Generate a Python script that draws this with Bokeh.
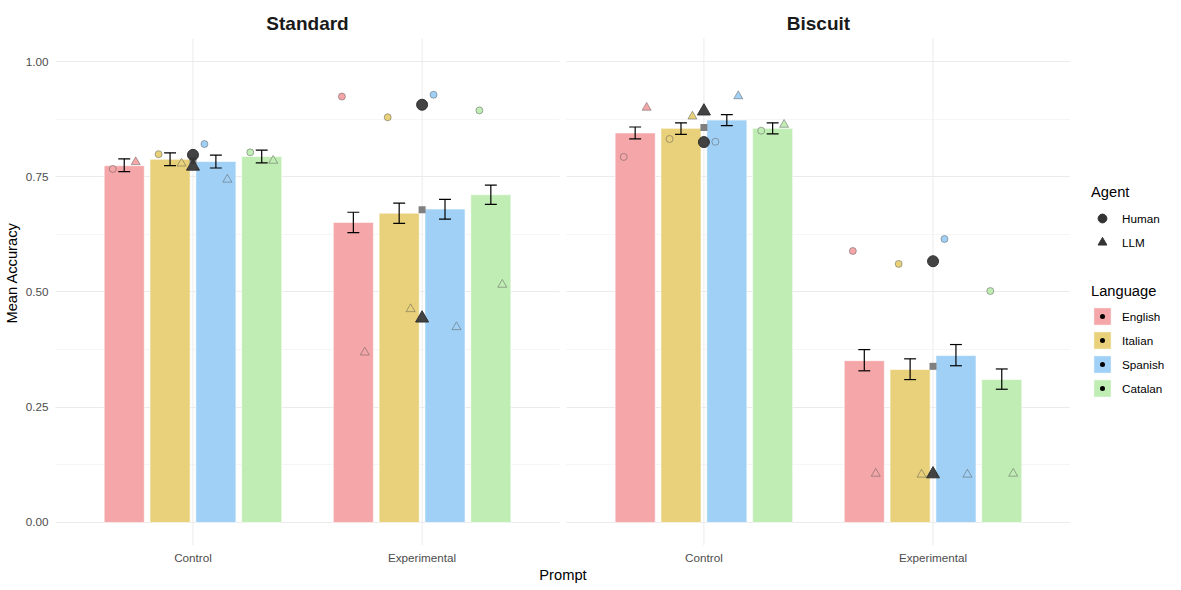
import numpy as np
from bokeh.plotting import figure
from bokeh.layouts import row
from bokeh.models import (FixedTicker, NumeralTickFormatter, Label, Legend,
                          LegendItem, ColumnDataSource)
from bokeh.embed import file_html
from bokeh.resources import INLINE

# ---------------- data ----------------
facets = ["Standard", "Biscuit"]
prompts = ["Control", "Experimental"]
languages = ["English", "Italian", "Spanish", "Catalan"]
agents = ["Human", "LLM"]
lang_colors = ["#F5A6A8", "#E8D17A", "#A0D0F5", "#C0EDB4"]

# bar means (order: English, Italian, Spanish, Catalan)
standard_control_mean = [0.774, 0.788, 0.783, 0.794]
standard_experimental_mean = [0.651, 0.671, 0.680, 0.711]
biscuit_control_mean = [0.845, 0.855, 0.873, 0.855]
biscuit_experimental_mean = [0.351, 0.332, 0.362, 0.310]

# error bar lower / upper
standard_control_lo = [0.761, 0.774, 0.769, 0.780]
standard_control_hi = [0.789, 0.802, 0.797, 0.808]
standard_experimental_lo = [0.629, 0.649, 0.658, 0.690]
standard_experimental_hi = [0.673, 0.693, 0.701, 0.732]
biscuit_control_lo = [0.832, 0.842, 0.861, 0.843]
biscuit_control_hi = [0.858, 0.867, 0.885, 0.867]
biscuit_experimental_lo = [0.329, 0.310, 0.340, 0.289]
biscuit_experimental_hi = [0.375, 0.355, 0.386, 0.333]

# accuracy by agent per language
standard_control_human = [0.767, 0.799, 0.821, 0.803]
standard_control_llm = [0.782, 0.779, 0.744, 0.785]
standard_experimental_human = [0.924, 0.879, 0.928, 0.894]
standard_experimental_llm = [0.369, 0.463, 0.424, 0.516]
biscuit_control_human = [0.793, 0.832, 0.826, 0.850]
biscuit_control_llm = [0.900, 0.881, 0.925, 0.863]
biscuit_experimental_human = [0.589, 0.561, 0.615, 0.502]
biscuit_experimental_llm = [0.106, 0.104, 0.104, 0.106]

means = {("Standard", "Control"): standard_control_mean,
         ("Standard", "Experimental"): standard_experimental_mean,
         ("Biscuit", "Control"): biscuit_control_mean,
         ("Biscuit", "Experimental"): biscuit_experimental_mean}
los = {("Standard", "Control"): standard_control_lo,
       ("Standard", "Experimental"): standard_experimental_lo,
       ("Biscuit", "Control"): biscuit_control_lo,
       ("Biscuit", "Experimental"): biscuit_experimental_lo}
his = {("Standard", "Control"): standard_control_hi,
       ("Standard", "Experimental"): standard_experimental_hi,
       ("Biscuit", "Control"): biscuit_control_hi,
       ("Biscuit", "Experimental"): biscuit_experimental_hi}
humans = {("Standard", "Control"): standard_control_human,
          ("Standard", "Experimental"): standard_experimental_human,
          ("Biscuit", "Control"): biscuit_control_human,
          ("Biscuit", "Experimental"): biscuit_experimental_human}
llms = {("Standard", "Control"): standard_control_llm,
        ("Standard", "Experimental"): standard_experimental_llm,
        ("Biscuit", "Control"): biscuit_control_llm,
        ("Biscuit", "Experimental"): biscuit_experimental_llm}

# ---------------- layout constants ----------------
FONT = "Liberation Sans"
PANEL_W = 2.2          # discrete scale 0.4 .. 2.6
GAP = 0.03             # space between facets
DODGE = 0.2
BAR_W = 0.175
AG_OFF = 0.05
CAP = 0.026
X0, X1 = 0.4, 0.4 + 2 * PANEL_W + GAP
Y0, Y1 = -0.05, 1.05
YTOP = 1.05 + 38 / 461.0   # room for facet strip titles

def center(fi, pj):
    return 1 + pj + fi * (PANEL_W + GAP)

bars = dict(x=[], top=[], color=[])
errs = dict(x=[], lo=[], hi=[], xl=[], xr=[])
hum = dict(x=[], y=[], color=[])
llm = dict(x=[], y=[], color=[])
agg = dict(x=[], h=[], l=[], m=[])
tick_pos, tick_lab = [], {}

for fi, f in enumerate(facets):
    for pj, pr in enumerate(prompts):
        c = center(fi, pj)
        tick_pos.append(c)
        tick_lab[c] = pr
        key = (f, pr)
        for li, lang in enumerate(languages):
            x = c + (li - 1.5) * DODGE
            bars["x"].append(x); bars["top"].append(means[key][li]); bars["color"].append(lang_colors[li])
            errs["x"].append(x); errs["lo"].append(los[key][li]); errs["hi"].append(his[key][li])
            errs["xl"].append(x - CAP); errs["xr"].append(x + CAP)
            hum["x"].append(x - AG_OFF); hum["y"].append(humans[key][li]); hum["color"].append(lang_colors[li])
            llm["x"].append(x + AG_OFF); llm["y"].append(llms[key][li]); llm["color"].append(lang_colors[li])
        agg["x"].append(c)
        agg["h"].append(float(np.mean(humans[key])))
        agg["l"].append(float(np.mean(llms[key])))
        agg["m"].append(float(np.mean(means[key])))

# ---------------- main figure ----------------
p = figure(width=1070, height=590,
           x_range=(X0, X1), y_range=(Y0, YTOP),
           min_border_left=55, min_border_right=0,
           min_border_top=0, min_border_bottom=45,
           output_backend="svg", toolbar_location=None)
p.outline_line_color = None
p.background_fill_color = "white"
p.border_fill_color = "white"

xt = FixedTicker(ticks=tick_pos)
p.xaxis.ticker = xt
p.xaxis.major_label_overrides = tick_lab
p.xgrid.grid_line_color = None
yt = FixedTicker(ticks=[0, 0.25, 0.5, 0.75, 1.0], minor_ticks=[0.125, 0.375, 0.625, 0.875])
p.yaxis.ticker = yt
p.ygrid.ticker = yt
p.yaxis.formatter = NumeralTickFormatter(format="0.00")

for ax in (p.xaxis, p.yaxis):
    ax.axis_line_color = None
    ax.major_tick_line_color = None
    ax.minor_tick_line_color = None
    ax.major_tick_out = 0
    ax.major_tick_in = 0
    ax.minor_tick_out = 0
    ax.minor_tick_in = 0
    ax.major_label_text_font = FONT
    ax.major_label_text_font_size = "11.7px"
    ax.major_label_text_color = "#4D4D4D"
    ax.axis_label_text_font = FONT
    ax.axis_label_text_font_size = "14.7px"
    ax.axis_label_text_font_style = "normal"
    ax.axis_label_text_color = "black"
p.xaxis.axis_label = "Prompt"
p.yaxis.axis_label = "Mean Accuracy"
p.xaxis.major_label_standoff = 5
p.xaxis.axis_label_standoff = 0
p.yaxis.major_label_standoff = 7
p.yaxis.axis_label_standoff = 3

p.ygrid.grid_line_color = "#EBEBEB"
p.ygrid.minor_grid_line_color = "#F0F0F0"
p.ygrid.minor_grid_line_width = 0.7

# vertical grid lines (limited to the panels)
p.segment(x0=tick_pos, x1=tick_pos, y0=[Y0] * len(tick_pos), y1=[Y1] * len(tick_pos),
          line_color="#EBEBEB", line_width=1)
# white band between facets
p.quad(left=[X0 + PANEL_W], right=[X0 + PANEL_W + GAP], bottom=[Y0], top=[Y1],
       fill_color="white", line_color=None)

p.vbar(x="x", top="top", bottom=0, width=BAR_W, fill_color="color",
       line_color="white", line_width=0.6, source=ColumnDataSource(bars))
es = ColumnDataSource(errs)
p.segment(x0="x", x1="x", y0="lo", y1="hi", line_color="black", line_width=1.2, source=es)
p.segment(x0="xl", x1="xr", y0="lo", y1="lo", line_color="black", line_width=1.2, source=es)
p.segment(x0="xl", x1="xr", y0="hi", y1="hi", line_color="black", line_width=1.2, source=es)

p.scatter(x="x", y="y", marker="circle", size=7, fill_color="color",
          line_color="#555555", line_alpha=0.8, line_width=0.6, source=ColumnDataSource(hum))
p.scatter(x="x", y="y", marker="triangle", size=9, fill_color="color",
          line_color="#555555", line_alpha=0.8, line_width=0.6, source=ColumnDataSource(llm))

ags = ColumnDataSource(agg)
p.scatter(x="x", y="m", marker="square", size=7, fill_color="#7F7F7F", line_color=None, source=ags)
p.scatter(x="x", y="h", marker="circle", size=11, fill_color="#333333", fill_alpha=0.92,
          line_color="#333333", source=ags)
p.scatter(x="x", y="l", marker="triangle", size=13, fill_color="#333333", fill_alpha=0.92,
          line_color="#333333", source=ags)

# facet strip titles
for fi, f in enumerate(facets):
    p.add_layout(Label(x=center(fi, 0) + 0.5, y=1.05 + 15 / 461.0, text=f, text_align="center",
                       text_baseline="middle", text_font=FONT, text_font_size="19px",
                       text_font_style="bold", text_color="#1A1A1A"))

# ---------------- legend panel ----------------
q = figure(width=111, height=590, x_range=(0, 1), y_range=(0, 1),
           x_axis_type=None, y_axis_type=None, min_border=0,
           output_backend="svg", toolbar_location=None)
q.outline_line_color = None
q.grid.grid_line_color = None
q.background_fill_color = "white"
q.border_fill_color = "white"

r_h = q.scatter(x=[0.5], y=[-10], marker="circle", size=10, fill_color="#333333", line_color="#333333")
r_l = q.scatter(x=[0.5], y=[-10], marker="triangle", size=12, fill_color="#333333", line_color="#333333")
agent_items = [LegendItem(label=agents[0], renderers=[r_h]),
               LegendItem(label=agents[1], renderers=[r_l])]

lang_items = []
for li, lang in enumerate(languages):
    rb = q.quad(left=[0.5], right=[0.51], bottom=[-10], top=[-9.9], fill_color=lang_colors[li],
                line_color="white", line_width=1)
    rd = q.line(x=[0.5, 0.51], y=[-10, -10], line_color="black", line_width=5,
                line_cap="round", line_dash="0 200", line_dash_offset=189)
    lang_items.append(LegendItem(label=lang, renderers=[rb, rd]))

def style(leg, standoff):
    leg.glyph_width = 22
    leg.glyph_height = 22
    leg.label_standoff = 9
    leg.spacing = 2
    leg.padding = 0
    leg.margin = 0
    leg.border_line_color = None
    leg.background_fill_alpha = 0
    leg.label_text_font = FONT
    leg.label_text_font_size = "11.7px"
    leg.label_text_color = "black"
    leg.title_text_font = FONT
    leg.title_text_font_size = "14.7px"
    leg.title_text_font_style = "normal"
    leg.title_text_color = "black"
    leg.title_standoff = standoff

leg_a = Legend(items=agent_items, title="Agent", location=(21, 292))
leg_b = Legend(items=lang_items, title="Language", location=(21, 146))
style(leg_a, 7); style(leg_b, 6)
q.add_layout(leg_a)
q.add_layout(leg_b)

layout = row(p, q, spacing=0)
open("out.html", "w").write(file_html(layout, INLINE))
